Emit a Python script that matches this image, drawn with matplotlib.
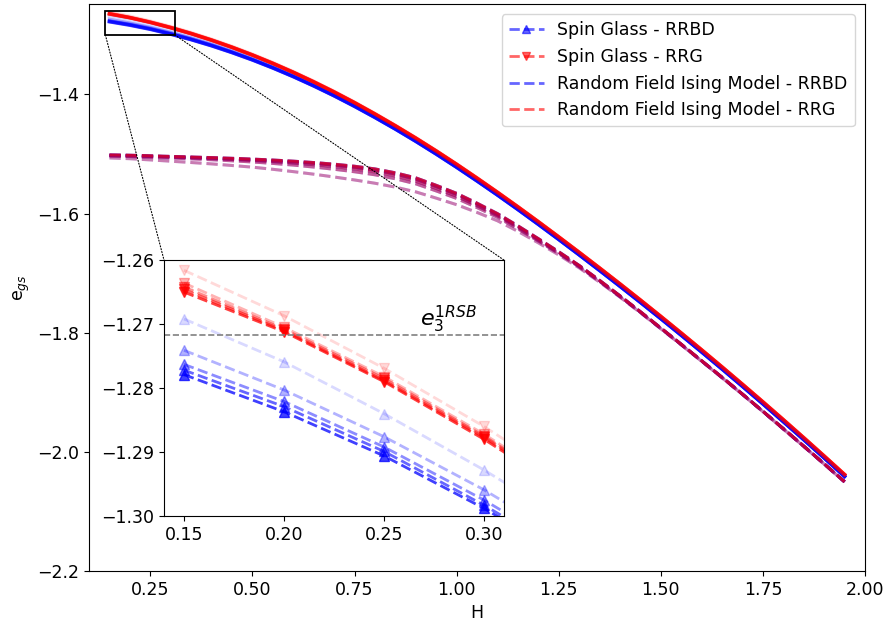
import matplotlib
matplotlib.use("Agg")
import matplotlib.pyplot as plt
from matplotlib.lines import Line2D
from matplotlib.patches import Rectangle, ConnectionPatch

# external field values
H = [0.15, 0.20, 0.25, 0.30, 0.35, 0.40, 0.45, 0.50, 0.55, 0.60, 0.65, 0.70,
     0.75, 0.80, 0.85, 0.90, 0.95, 1.00, 1.05, 1.10, 1.15, 1.20, 1.25, 1.30,
     1.35, 1.40, 1.45, 1.50, 1.55, 1.60, 1.65, 1.70, 1.75, 1.80, 1.85, 1.90, 1.95]

# ground state energy per spin, spin glass on random regular bimodal-degree graphs
# (smallest system first)
sg_rrbd = [
    [-1.2692, -1.2759, -1.2840, -1.2928, -1.3024, -1.3131, -1.3249, -1.3376, -1.3514, -1.3662,
     -1.3821, -1.3990, -1.4169, -1.4358, -1.4555, -1.4761, -1.4976, -1.5199, -1.5430, -1.5667,
     -1.5911, -1.6161, -1.6416, -1.6675, -1.6937, -1.7204, -1.7474, -1.7749, -1.8027, -1.8310,
     -1.8596, -1.8887, -1.9181, -1.9480, -1.9782, -2.0089, -2.0399],
    [-1.2741, -1.2803, -1.2876, -1.2959, -1.3053, -1.3158, -1.3275, -1.3401, -1.3538, -1.3684,
     -1.3841, -1.4008, -1.4186, -1.4374, -1.4570, -1.4776, -1.4990, -1.5213, -1.5443, -1.5680,
     -1.5923, -1.6173, -1.6427, -1.6686, -1.6948, -1.7215, -1.7485, -1.7759, -1.8037, -1.8319,
     -1.8605, -1.8896, -1.9190, -1.9489, -1.9791, -2.0098, -2.0408],
    [-1.2763, -1.2821, -1.2892, -1.2975, -1.3068, -1.3171, -1.3286, -1.3411, -1.3547, -1.3693,
     -1.3849, -1.4016, -1.4193, -1.4381, -1.4576, -1.4782, -1.4996, -1.5218, -1.5448, -1.5685,
     -1.5928, -1.6177, -1.6431, -1.6690, -1.6952, -1.7218, -1.7488, -1.7762, -1.8040, -1.8322,
     -1.8608, -1.8899, -1.9193, -1.9492, -1.9794, -2.0101, -2.0411],
    [-1.2772, -1.2829, -1.2899, -1.2983, -1.3075, -1.3178, -1.3293, -1.3417, -1.3552, -1.3698,
     -1.3854, -1.4020, -1.4197, -1.4384, -1.4580, -1.4785, -1.4999, -1.5221, -1.5451, -1.5687,
     -1.5930, -1.6179, -1.6433, -1.6691, -1.6954, -1.7220, -1.7490, -1.7764, -1.8042, -1.8324,
     -1.8610, -1.8901, -1.9195, -1.9494, -1.9796, -2.0103, -2.0413],
    [-1.2779, -1.2837, -1.2906, -1.2988, -1.3080, -1.3183, -1.3297, -1.3421, -1.3556, -1.3701,
     -1.3857, -1.4023, -1.4200, -1.4387, -1.4582, -1.4787, -1.5001, -1.5223, -1.5453, -1.5689,
     -1.5932, -1.6181, -1.6435, -1.6693, -1.6955, -1.7221, -1.7491, -1.7765, -1.8043, -1.8325,
     -1.8611, -1.8902, -1.9196, -1.9495, -1.9797, -2.0104, -2.0414],
]

# spin glass on random regular graphs
sg_rrg = [
    [-1.2616, -1.2687, -1.2769, -1.2860, -1.2961, -1.3072, -1.3192, -1.3323, -1.3464, -1.3614,
     -1.3775, -1.3945, -1.4126, -1.4316, -1.4515, -1.4722, -1.4939, -1.5163, -1.5395, -1.5634,
     -1.5878, -1.6128, -1.6384, -1.6643, -1.6906, -1.7173, -1.7444, -1.7719, -1.7998, -1.8281,
     -1.8568, -1.8859, -1.9154, -1.9453, -1.9756, -2.0063, -2.0374],
    [-1.2636, -1.2705, -1.2782, -1.2872, -1.2972, -1.3082, -1.3203, -1.3333, -1.3473, -1.3624,
     -1.3784, -1.3954, -1.4134, -1.4325, -1.4523, -1.4730, -1.4946, -1.5170, -1.5402, -1.5640,
     -1.5884, -1.6134, -1.6389, -1.6648, -1.6911, -1.7178, -1.7449, -1.7724, -1.8003, -1.8286,
     -1.8573, -1.8864, -1.9159, -1.9458, -1.9761, -2.0068, -2.0379],
    [-1.2642, -1.2708, -1.2785, -1.2875, -1.2975, -1.3085, -1.3205, -1.3336, -1.3476, -1.3626,
     -1.3786, -1.3956, -1.4136, -1.4326, -1.4525, -1.4732, -1.4948, -1.5172, -1.5404, -1.5642,
     -1.5886, -1.6136, -1.6391, -1.6650, -1.6913, -1.7180, -1.7451, -1.7726, -1.8005, -1.8288,
     -1.8575, -1.8866, -1.9161, -1.9460, -1.9763, -2.0070, -2.0381],
    [-1.2646, -1.2710, -1.2788, -1.2877, -1.2977, -1.3087, -1.3207, -1.3337, -1.3478, -1.3628,
     -1.3788, -1.3958, -1.4138, -1.4328, -1.4526, -1.4733, -1.4949, -1.5173, -1.5406, -1.5644,
     -1.5888, -1.6138, -1.6393, -1.6652, -1.6915, -1.7182, -1.7453, -1.7728, -1.8007, -1.8290,
     -1.8577, -1.8868, -1.9163, -1.9462, -1.9765, -2.0072, -2.0383],
    [-1.2650, -1.2712, -1.2790, -1.2880, -1.2980, -1.3090, -1.3210, -1.3340, -1.3480, -1.3630,
     -1.3790, -1.3960, -1.4140, -1.4330, -1.4528, -1.4735, -1.4951, -1.5175, -1.5407, -1.5645,
     -1.5889, -1.6139, -1.6394, -1.6653, -1.6916, -1.7183, -1.7454, -1.7729, -1.8008, -1.8291,
     -1.8578, -1.8869, -1.9164, -1.9463, -1.9766, -2.0073, -2.0384],
]

# random field Ising model (RRBD and RRG coincide to plotting precision)
rfim = [
    [-1.5065, -1.5078, -1.5098, -1.5120, -1.5142, -1.5165, -1.5192, -1.5220, -1.5256, -1.5295,
     -1.5338, -1.5385, -1.5435, -1.5490, -1.5555, -1.5635, -1.5740, -1.5850, -1.5980, -1.6120,
     -1.6297, -1.6490, -1.6693, -1.6910, -1.7150, -1.7402, -1.7664, -1.7934, -1.8205, -1.8480,
     -1.8757, -1.9038, -1.9325, -1.9617, -1.9909, -2.0206, -2.0506],
    [-1.5035, -1.5042, -1.5054, -1.5067, -1.5081, -1.5095, -1.5113, -1.5133, -1.5157, -1.5185,
     -1.5218, -1.5255, -1.5297, -1.5348, -1.5415, -1.5500, -1.5619, -1.5745, -1.5899, -1.6062,
     -1.6255, -1.6460, -1.6671, -1.6894, -1.7138, -1.7394, -1.7658, -1.7929, -1.8200, -1.8476,
     -1.8753, -1.9035, -1.9322, -1.9614, -1.9907, -2.0204, -2.0504],
    [-1.5025, -1.5031, -1.5042, -1.5053, -1.5065, -1.5077, -1.5091, -1.5107, -1.5127, -1.5150,
     -1.5178, -1.5210, -1.5250, -1.5300, -1.5368, -1.5455, -1.5577, -1.5708, -1.5867, -1.6036,
     -1.6235, -1.6444, -1.6659, -1.6884, -1.7131, -1.7388, -1.7653, -1.7925, -1.8197, -1.8474,
     -1.8751, -1.9033, -1.9321, -1.9613, -1.9906, -2.0203, -2.0503],
    [-1.5020, -1.5025, -1.5036, -1.5046, -1.5057, -1.5068, -1.5081, -1.5095, -1.5112, -1.5132,
     -1.5156, -1.5185, -1.5221, -1.5268, -1.5334, -1.5420, -1.5544, -1.5678, -1.5841, -1.6014,
     -1.6217, -1.6430, -1.6648, -1.6876, -1.7125, -1.7384, -1.7650, -1.7923, -1.8195, -1.8472,
     -1.8750, -1.9032, -1.9320, -1.9612, -1.9905, -2.0202, -2.0502],
    [-1.5015, -1.5020, -1.5030, -1.5040, -1.5050, -1.5060, -1.5072, -1.5085, -1.5101, -1.5120,
     -1.5143, -1.5170, -1.5205, -1.5250, -1.5315, -1.5400, -1.5525, -1.5660, -1.5825, -1.6000,
     -1.6205, -1.6420, -1.6640, -1.6870, -1.7120, -1.7380, -1.7647, -1.7920, -1.8193, -1.8470,
     -1.8748, -1.9030, -1.9318, -1.9610, -1.9903, -2.0200, -2.0500],
]

sg_alphas = [0.15, 0.3, 0.45, 0.6, 0.75]
rfim_alphas = [0.3, 0.4, 0.5, 0.6, 0.7]

E3_1RSB = -1.2717

plt.rcParams['font.size'] = 12.5

fig = plt.figure(figsize=(8.86, 6.28), dpi=100)
ax = fig.add_axes([0.1005, 0.0908, 0.8758, 0.9029])

for k, a in enumerate(sg_alphas):
    ax.plot(H, sg_rrbd[k], '-', color='blue', alpha=a, lw=2.5)
    ax.plot(H, sg_rrg[k], '-', color='red', alpha=a, lw=2.5)
for k, a in enumerate(rfim_alphas):
    ax.plot(H, rfim[k], '--', color='blue', alpha=a, lw=2.2)
    ax.plot(H, rfim[k], '--', color='red', alpha=a, lw=2.2)

ax.set_xlim(0.1, 2.0)
ax.set_ylim(-2.2, -1.248)
ax.set_xticks([0.25, 0.50, 0.75, 1.00, 1.25, 1.50, 1.75, 2.00])
ax.set_xticklabels(["0.25", "0.50", "0.75", "1.00", "1.25", "1.50", "1.75", "2.00"])
ax.set_yticks([-2.2, -2.0, -1.8, -1.6, -1.4])
ax.set_xlabel("H")
ax.set_ylabel(r"e$_{gs}$")

handles = [
    Line2D([], [], ls='--', marker='^', color='blue', alpha=0.6, lw=2),
    Line2D([], [], ls='--', marker='v', color='red', alpha=0.6, lw=2),
    Line2D([], [], ls='--', color='blue', alpha=0.6, lw=2),
    Line2D([], [], ls='--', color='red', alpha=0.6, lw=2),
]
labels = ["Spin Glass - RRBD", "Spin Glass - RRG",
          "Random Field Ising Model - RRBD", "Random Field Ising Model - RRG"]
ax.legend(handles, labels, loc='upper right', fontsize=12.5, borderaxespad=0.6)

# zoomed inset on the low field region
axins = fig.add_axes([0.1851, 0.1783, 0.3837, 0.4076])
for k, a in enumerate(sg_alphas):
    axins.plot(H, sg_rrbd[k], '--^', color='blue', alpha=a, lw=2, ms=6.5)
    axins.plot(H, sg_rrg[k], '--v', color='red', alpha=a, lw=2, ms=6.5)
axins.axhline(E3_1RSB, color='gray', ls='--', lw=1.2)
axins.text(0.268, E3_1RSB, r"$e_3^{1RSB}$", fontsize=16, va='bottom', ha='left')
axins.set_xlim(0.14, 0.31)
axins.set_ylim(-1.30, -1.26)
axins.set_xticks([0.15, 0.20, 0.25, 0.30])
axins.set_xticklabels(["0.15", "0.20", "0.25", "0.30"])
axins.set_yticks([-1.30, -1.29, -1.28, -1.27, -1.26])
axins.set_yticklabels(["\u22121.30", "\u22121.29", "\u22121.28", "\u22121.27", "\u22121.26"])

# box around the zoomed region and the two connectors
x0, x1 = axins.get_xlim()
y0, y1 = axins.get_ylim()
ax.add_patch(Rectangle((x0, y0), x1 - x0, y1 - y0, fill=False, ec='black', lw=1.3, zorder=5))
for xa, xb in [(x0, 0), (x1, 1)]:
    con = ConnectionPatch(xyA=(xa, y0), coordsA=ax.transData,
                          xyB=(xb, 1), coordsB=axins.transAxes,
                          ls=':', lw=0.8, color='black')
    fig.add_artist(con)

fig.savefig("out.png", dpi=100)
